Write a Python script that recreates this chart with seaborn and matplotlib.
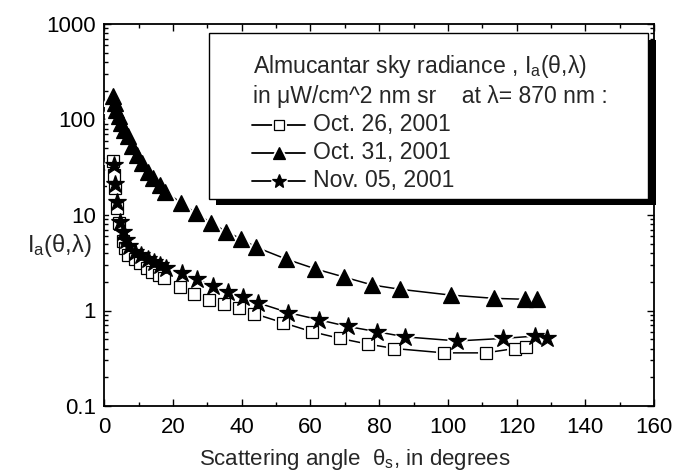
import matplotlib
matplotlib.use("Agg")
import matplotlib.pyplot as plt
import matplotlib.transforms as mtransforms
from matplotlib.lines import Line2D
from matplotlib.patches import Rectangle
from matplotlib.ticker import FixedLocator, FixedFormatter, MultipleLocator, LogLocator, NullFormatter
import pandas as pd
import seaborn as sns

# Almucantar sky radiance at 870 nm versus scattering angle
oct26_angle = [2.4, 2.7, 3.1, 3.6, 4.4, 5.3, 6.1, 7.0, 8.8, 10.5, 12.3, 14.0, 15.8, 17.5,
               21.9, 26.2, 30.6, 34.9, 39.2, 43.5, 52.0, 60.4, 68.6, 76.7, 84.4, 98.9,
               111.0, 119.5, 122.6]
oct26_rad = [37, 26, 19, 11.8, 8.3, 5.3, 4.5, 3.8, 3.45, 3.13, 2.8, 2.55, 2.36, 2.18,
             1.75, 1.49, 1.30, 1.18, 1.07, 0.93, 0.745, 0.60, 0.51, 0.445, 0.40, 0.36,
             0.36, 0.40, 0.41]

oct31_angle = [2.6, 3.0, 3.5, 4.2, 5.0, 5.8, 6.8, 8.0, 9.6, 11.1, 12.6, 14.3, 16.1, 17.8,
               22.3, 26.6, 31.0, 35.5, 39.9, 44.2, 52.8, 61.4, 69.8, 78.0, 86.0, 100.8,
               113.5, 122.5, 126.0]
oct31_rad = [175, 149, 127, 108, 91.5, 78, 66.5, 52.4, 42.8, 35, 28.5, 24.4, 20.7, 17.6,
             13.4, 10.5, 8.3, 6.7, 5.6, 4.6, 3.47, 2.73, 2.24, 1.85, 1.67, 1.45,
             1.34, 1.31, 1.31]

nov05_angle = [2.7, 3.2, 3.6, 4.5, 5.4, 6.3, 7.2, 9.0, 10.8, 12.6, 14.4, 16.2, 18.0,
               22.5, 27.0, 31.5, 36.0, 40.4, 44.8, 53.6, 62.4, 70.9, 79.3, 87.5, 102.8,
               116.0, 125.5, 129.0]
nov05_rad = [33, 21, 13.8, 8.5, 6.7, 5.5, 4.7, 4.1, 3.8, 3.5, 3.25, 3.0, 2.77,
             2.46, 2.12, 1.81, 1.57, 1.37, 1.2, 0.95, 0.80, 0.68, 0.60, 0.53, 0.48,
             0.51, 0.54, 0.52]

dates = ["Oct. 26, 2001", "Oct. 31, 2001", "Nov. 05, 2001"]
y_ticks = [0.1, 1, 10, 100, 1000]
y_tick_labels = ["0.1", "1", "10", "100", "1000"]
header_lines = [r"Almucantar sky radiance , I$_{\rm a}$(θ,λ)",
                "in μW/cm^2 nm sr    at λ= 870 nm :"]

sns.set_theme(style="ticks")
plt.rcParams["font.family"] = ["Liberation Sans", "DejaVu Sans"]
plt.rcParams["mathtext.fontset"] = "custom"
plt.rcParams["mathtext.rm"] = "Liberation Sans"
plt.rcParams["mathtext.it"] = "Liberation Sans:italic"
plt.rcParams["mathtext.default"] = "regular"

W, H = 673, 474
fig = plt.figure(figsize=(W / 100, H / 100), dpi=100)
fig.patch.set_facecolor("white")
x0, x1, ytop, ybot = 104.3, 654.0, 24.0, 406.0
ax = fig.add_axes([x0 / W, 1 - ybot / H, (x1 - x0) / W, (ybot - ytop) / H])
ax.set_facecolor("white")

df = pd.concat([
    pd.DataFrame({"angle": oct26_angle, "radiance": oct26_rad, "date": dates[0]}),
    pd.DataFrame({"angle": oct31_angle, "radiance": oct31_rad, "date": dates[1]}),
    pd.DataFrame({"angle": nov05_angle, "radiance": nov05_rad, "date": dates[2]}),
], ignore_index=True)

styles = {
    dates[0]: dict(marker="s", ms=8.3, mfc="white"),
    dates[1]: dict(marker="^", ms=11.0, mfc="black"),
    dates[2]: dict(marker="*", ms=13.5, mfc="black"),
}

sns.lineplot(data=df, x="angle", y="radiance", hue="date",
             palette={d: "black" for d in dates}, estimator=None, sort=False,
             linewidth=1.1, legend=False, ax=ax)

# white halos open a small gap in the connecting lines around each marker
for d in dates:
    sub = df[df["date"] == d]
    st = styles[d]
    ax.plot(sub["angle"], sub["radiance"], ls="none", marker=st["marker"], ms=st["ms"],
            mfc="white", mec="white", mew=3.5, zorder=3)
for d in dates:
    sub = df[df["date"] == d]
    st = styles[d]
    ax.plot(sub["angle"], sub["radiance"], ls="none", marker=st["marker"], ms=st["ms"],
            mfc=st["mfc"], mec="black", mew=0.9, zorder=4)

ax.set_yscale("log")
ax.set_xlim(0, 160)
ax.set_ylim(0.1, 1000)
ax.xaxis.set_major_locator(MultipleLocator(20))
ax.xaxis.set_minor_locator(MultipleLocator(10))
ax.yaxis.set_major_locator(FixedLocator(y_ticks))
ax.yaxis.set_major_formatter(FixedFormatter(y_tick_labels))
ax.yaxis.set_minor_locator(LogLocator(base=10, subs=range(2, 10)))
ax.yaxis.set_minor_formatter(NullFormatter())
ax.tick_params(which="both", direction="in", top=True, right=True, width=1.0,
               colors="black", labelsize=16)
ax.tick_params(which="major", length=5, pad=6)
ax.tick_params(axis="x", which="major", pad=8)
ax.tick_params(which="minor", length=2.8)
for s in ax.spines.values():
    s.set_linewidth(1.3)
    s.set_color("black")

ax.set_xlabel(r"Scattering angle  θ$_{\rm s}$, in degrees", fontsize=16, va="center")
ax.xaxis.set_label_coords((355 - x0) / (x1 - x0), (ybot - 459) / (ybot - ytop))
ax.set_ylabel(r"I$_{\rm a}$(θ,λ)", fontsize=17, rotation=0, ha="left", va="center")
ax.yaxis.set_label_coords((27 - x0) / (x1 - x0), (ybot - 246) / (ybot - ytop))

# legend panel with a drop shadow, laid out in pixel units from the top-left corner
px = mtransforms.Affine2D().scale(1 / W, -1 / H).translate(0, 1) + fig.transFigure
fig.patches.append(Rectangle((216, 40), 440, 165, transform=px, fc="black", ec="none", zorder=5))
fig.patches.append(Rectangle((209, 33), 439, 166, transform=px, fc="white", ec="black",
                             lw=1.0, zorder=6))
text_x = 253
fs_leg = 16.6
fig.text(text_x, 67, header_lines[0], transform=px, fontsize=fs_leg, va="center", ha="left", zorder=7)
fig.text(text_x, 97, header_lines[1], transform=px, fontsize=fs_leg, va="center", ha="left", zorder=7)
leg_ms = {dates[0]: 6.5, dates[1]: 9, dates[2]: 10}
for i, d in enumerate(dates):
    yy = 125 + 28 * i
    st = styles[d]
    fig.lines.append(Line2D([252, 305], [yy, yy], transform=px, color="black", lw=1.3, zorder=7))
    fig.lines.append(Line2D([278.5], [yy], transform=px, ls="none", marker=st["marker"],
                            ms=leg_ms[d], mfc="white", mec="white", mew=3.5, zorder=8))
    fig.lines.append(Line2D([278.5], [yy], transform=px, ls="none", marker=st["marker"],
                            ms=leg_ms[d], mfc=st["mfc"], mec="black", mew=0.9, zorder=9))
    fig.text(313, yy, d, transform=px, fontsize=fs_leg, va="center", ha="left", zorder=7)

fig.savefig("out.png", dpi=100)
